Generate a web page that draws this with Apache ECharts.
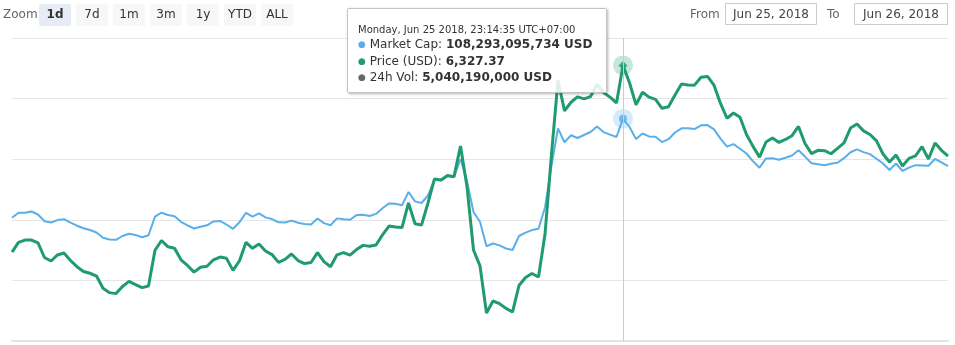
<!DOCTYPE html>
<html>
<head>
<meta charset="utf-8">
<script src="https://cdn.jsdelivr.net/npm/echarts@6/dist/echarts.min.js"></script>
<style>
  html, body { margin: 0; padding: 0; background: #fff; }
  #chart { width: 955px; height: 345px; }
</style>
</head>
<body>
<div id="chart"></div>
<script>
// ---- Data ----
// 10-minute samples, Jun 25 2018 07:34:35 -> Jun 26 2018 07:34:35 (UTC+07:00)
const startTime = Date.UTC(2018, 5, 25, 7, 34, 35); // wall clock in UTC+07:00
const stepMinutes = 10;
const hoverIndex = 94;

const priceUSD = [
  6173.4, 6181.3, 6183.3, 6183.3, 6180.9, 6168.9, 6166.0, 6171.0, 6172.6, 6166.4,
  6161.3, 6157.4, 6155.9, 6153.6, 6143.5, 6139.9, 6139.1, 6145.0, 6149.2, 6146.5,
  6144.0, 6145.4, 6174.9, 6182.9, 6177.7, 6176.6, 6167.0, 6162.3, 6156.8, 6160.8,
  6161.7, 6167.0, 6169.3, 6168.2, 6158.3, 6166.2, 6181.4, 6176.5, 6180.0, 6174.3,
  6171.3, 6164.9, 6167.4, 6171.8, 6166.4, 6163.9, 6164.8, 6172.9, 6165.5, 6161.3,
  6171.1, 6172.9, 6170.9, 6175.4, 6178.9, 6178.1, 6179.2, 6187.6, 6194.8, 6194.1,
  6193.6, 6213.9, 6196.8, 6195.7, 6213.9, 6233.7, 6232.8, 6236.5, 6235.6, 6260.9,
  6227.3, 6175.1, 6162.0, 6123.1, 6133.0, 6130.8, 6126.9, 6123.9, 6145.8, 6152.4,
  6155.7, 6152.8, 6188.0, 6254.1, 6315.0, 6289.9, 6297.0, 6301.4, 6299.8, 6301.6,
  6311.8, 6305.0, 6301.2, 6296.4, 6327.37, 6313.1, 6294.9, 6305.2, 6301.2, 6299.4,
  6292.0, 6293.3, 6303.0, 6312.0, 6311.2, 6311.1, 6317.6, 6318.3, 6311.1, 6296.0,
  6283.8, 6288.1, 6284.6, 6270.3, 6260.6, 6251.7, 6264.2, 6267.5, 6263.8, 6266.3,
  6269.4, 6277.0, 6263.0, 6254.6, 6257.3, 6257.0, 6254.5, 6259.0, 6263.4, 6275.7,
  6279.0, 6273.4, 6270.4, 6265.1, 6254.3, 6247.7, 6253.5, 6244.4, 6250.7, 6252.8,
  6260.3, 6250.2, 6263.4, 6257.3, 6252.6
];

// Market cap in billions of USD
const marketCapB = [
  105.646, 105.777, 105.777, 105.812, 105.732, 105.550, 105.518, 105.582, 105.606, 105.515,
  105.432, 105.365, 105.317, 105.251, 105.112, 105.063, 105.055, 105.157, 105.216, 105.186,
  105.125, 105.176, 105.673, 105.780, 105.718, 105.686, 105.537, 105.443, 105.357, 105.403,
  105.443, 105.545, 105.561, 105.464, 105.349, 105.526, 105.777, 105.673, 105.761, 105.654,
  105.609, 105.523, 105.518, 105.569, 105.513, 105.478, 105.464, 105.625, 105.502, 105.446,
  105.628, 105.606, 105.590, 105.716, 105.726, 105.692, 105.748, 105.900, 106.028, 106.020,
  105.980, 106.333, 106.082, 106.039, 106.240, 106.667, 106.641, 106.761, 106.734, 107.215,
  106.627, 105.799, 105.539, 104.882, 104.956, 104.906, 104.823, 104.783, 105.157, 105.248,
  105.315, 105.352, 105.919, 107.039, 108.031, 107.664, 107.849, 107.777, 107.857, 107.937,
  108.084, 107.934, 107.868, 107.804, 108.293095734, 108.071, 107.750, 107.897, 107.820, 107.812,
  107.667, 107.745, 107.924, 108.036, 108.039, 108.017, 108.116, 108.122, 108.007, 107.761,
  107.547, 107.614, 107.488, 107.362, 107.154, 106.980, 107.231, 107.237, 107.197, 107.248,
  107.309, 107.451, 107.280, 107.103, 107.074, 107.047, 107.087, 107.116, 107.237, 107.395,
  107.472, 107.400, 107.346, 107.223, 107.095, 106.921, 107.095, 106.895, 106.986, 107.050,
  107.044, 107.036, 107.215, 107.127, 107.028
];

const hoverVolumeUSD = 5040190000;

const zoomButtons = ['1d', '7d', '1m', '3m', '1y', 'YTD', 'ALL'];
const selectedZoom = 0;
const fromDate = 'Jun 25, 2018';
const toDate = 'Jun 26, 2018';

// Category labels (time stamps)
const timeStamps = priceUSD.map((_, i) => startTime + i * stepMinutes * 60000);
const categories = timeStamps.map(t => {
  const d = new Date(t);
  return String(d.getUTCHours()).padStart(2, '0') + ':' + String(d.getUTCMinutes()).padStart(2, '0');
});

// ---- Helpers ----
const DAYS = ['Sunday','Monday','Tuesday','Wednesday','Thursday','Friday','Saturday'];
const MONTHS = ['Jan','Feb','Mar','Apr','May','Jun','Jul','Aug','Sep','Oct','Nov','Dec'];
function headerText(t) {
  const d = new Date(t);
  const p = n => String(n).padStart(2, '0');
  return DAYS[d.getUTCDay()] + ', ' + MONTHS[d.getUTCMonth()] + ' ' + d.getUTCDate() + ' ' + d.getUTCFullYear() +
    ', ' + p(d.getUTCHours()) + ':' + p(d.getUTCMinutes()) + ':' + p(d.getUTCSeconds()) + ' UTC+07:00';
}
function group(n, dec) {
  const s = n.toFixed(dec);
  const parts = s.split('.');
  parts[0] = parts[0].replace(/\B(?=(\d{3})+(?!\d))/g, ',');
  return parts.join('.');
}

const BLUE = '#5aafe8';
const GREEN = '#1f9b6d';
const GREY = '#666666';
const FONT = '"DejaVu Sans", Verdana, sans-serif';

// ---- Graphic toolbar ----
const graphics = [];
graphics.push({
  type: 'text', x: 3, y: 15,
  style: { text: 'Zoom', font: '12px ' + FONT, fill: '#666', textVerticalAlign: 'middle' }
});
zoomButtons.forEach((label, i) => {
  const x = 39 + i * 37;
  graphics.push({
    type: 'rect', shape: { x: x, y: 4, width: 32, height: 22, r: 2 },
    style: { fill: i === selectedZoom ? '#e6ebf5' : '#f7f7f7' }
  });
  graphics.push({
    type: 'text', x: x + 16, y: 15,
    style: {
      text: label, font: (i === selectedZoom ? 'bold ' : '') + '12px ' + FONT,
      fill: '#333', textAlign: 'center', textVerticalAlign: 'middle'
    }
  });
});
graphics.push({
  type: 'text', x: 690, y: 15,
  style: { text: 'From', font: '12px ' + FONT, fill: '#666', textVerticalAlign: 'middle' }
});
graphics.push({
  type: 'rect', shape: { x: 725.5, y: 3.5, width: 91, height: 21 },
  style: { fill: '#fff', stroke: '#cccccc', lineWidth: 1 }
});
graphics.push({
  type: 'text', x: 771, y: 15,
  style: { text: fromDate, font: '12px ' + FONT, fill: '#444', textAlign: 'center', textVerticalAlign: 'middle' }
});
graphics.push({
  type: 'text', x: 827, y: 15,
  style: { text: 'To', font: '12px ' + FONT, fill: '#666', textVerticalAlign: 'middle' }
});
graphics.push({
  type: 'rect', shape: { x: 854.5, y: 3.5, width: 93, height: 21 },
  style: { fill: '#fff', stroke: '#cccccc', lineWidth: 1 }
});
graphics.push({
  type: 'text', x: 901, y: 15,
  style: { text: toDate, font: '12px ' + FONT, fill: '#444', textAlign: 'center', textVerticalAlign: 'middle' }
});

// ---- Chart ----
const chart = echarts.init(document.getElementById('chart'), null, { renderer: 'canvas' });

const option = {
  animation: false,
  textStyle: { fontFamily: FONT },
  graphic: graphics,
  grid: { left: 12, right: 7, top: 38, bottom: 4, containLabel: false },
  xAxis: {
    type: 'category',
    data: categories,
    boundaryGap: false,
    axisLine: { show: true, lineStyle: { color: '#e3e3e3', width: 2 } },
    axisTick: { show: false },
    axisLabel: { show: false },
    splitLine: { show: false }
  },
  yAxis: [
    {
      type: 'value', min: 6100, max: 6350, interval: 50,
      axisLabel: { show: false }, axisLine: { show: false }, axisTick: { show: false },
      splitLine: { show: true, lineStyle: { color: '#e6e6e6', width: 1 } }
    },
    {
      type: 'value', min: 102.35, max: 110.45,
      axisLabel: { show: false }, axisLine: { show: false }, axisTick: { show: false },
      splitLine: { show: false }
    }
  ],
  tooltip: {
    trigger: 'axis',
    alwaysShowContent: true,
    transitionDuration: 0,
    showDelay: 0,
    hideDelay: 100000,
    backgroundColor: 'rgba(255,255,255,0.86)',
    borderColor: '#c4c4c4',
    borderWidth: 1,
    padding: [14, 10, 6, 10],
    textStyle: { fontFamily: FONT, fontSize: 12, color: '#333' },
    extraCssText: 'box-shadow: 1px 1px 3px rgba(0,0,0,0.3); border-radius: 2px; width: 238px; line-height: 16.5px;',
    position: function () { return [347, 8]; },
    axisPointer: {
      type: 'line',
      animation: false,
      lineStyle: { color: '#cccccc', width: 1, type: 'solid' }
    },
    formatter: function (params) {
      const i = Array.isArray(params) ? params[0].dataIndex : params.dataIndex;
      const cap = Math.round(marketCapB[i] * 1e9);
      const bullet = c => '<span style="color:' + c + ';font-size:9px;vertical-align:1px">\u25CF</span> ';
      return '<div style="font-size:10px;line-height:13px">' + headerText(timeStamps[i]) + '</div>' +
        '<div>' + bullet(BLUE) + 'Market Cap: <b>' + group(cap, 0) + ' USD</b></div>' +
        '<div>' + bullet(GREEN) + 'Price (USD): <b>' + group(priceUSD[i], 2) + '</b></div>' +
        '<div>' + bullet(GREY) + '24h Vol: <b>' + group(hoverVolumeUSD, 0) + ' USD</b></div>';
    }
  },
  series: [
    {
      name: 'Market Cap', type: 'line', yAxisIndex: 1,
      data: marketCapB, symbol: 'none', smooth: false,
      lineStyle: { color: BLUE, width: 2 }, itemStyle: { color: BLUE },
      emphasis: { disabled: true }, z: 2
    },
    {
      name: 'Price (USD)', type: 'line', yAxisIndex: 0,
      data: priceUSD, symbol: 'none', smooth: false,
      lineStyle: { color: GREEN, width: 3 }, itemStyle: { color: GREEN },
      emphasis: { disabled: true }, z: 3
    },
    {
      name: 'capHalo', type: 'scatter', yAxisIndex: 1, silent: true, z: 4,
      data: [[hoverIndex, marketCapB[hoverIndex]]], symbol: 'circle', symbolSize: 20,
      itemStyle: { color: BLUE, opacity: 0.25 }, tooltip: { show: false }
    },
    {
      name: 'capDot', type: 'scatter', yAxisIndex: 1, silent: true, z: 5,
      data: [[hoverIndex, marketCapB[hoverIndex]]], symbol: 'circle', symbolSize: 8,
      itemStyle: { color: BLUE }, tooltip: { show: false }
    },
    {
      name: 'priceHalo', type: 'scatter', yAxisIndex: 0, silent: true, z: 4,
      data: [[hoverIndex, priceUSD[hoverIndex]]], symbol: 'circle', symbolSize: 20,
      itemStyle: { color: GREEN, opacity: 0.25 }, tooltip: { show: false }
    },
    {
      name: 'priceDot', type: 'scatter', yAxisIndex: 0, silent: true, z: 5,
      data: [[hoverIndex, priceUSD[hoverIndex]]], symbol: 'diamond', symbolSize: 9,
      itemStyle: { color: GREEN }, tooltip: { show: false }
    }
  ]
};

chart.setOption(option);
chart.dispatchAction({ type: 'showTip', seriesIndex: 1, dataIndex: hoverIndex });
setTimeout(function () {
  chart.dispatchAction({ type: 'showTip', seriesIndex: 1, dataIndex: hoverIndex });
}, 50);
</script>
</body>
</html>
